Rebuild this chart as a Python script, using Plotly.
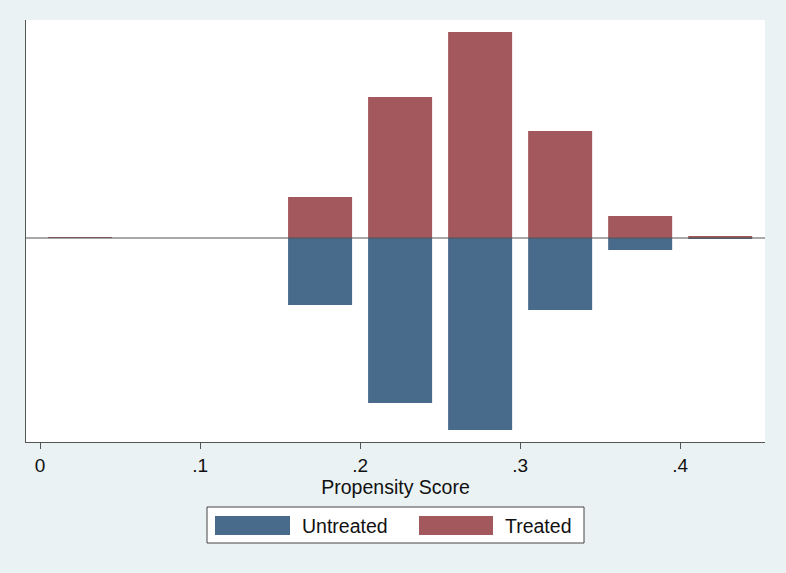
import plotly.graph_objects as go

bin_centers = [0.025, 0.075, 0.125, 0.175, 0.225, 0.275, 0.325, 0.375, 0.425]
treated = [0.6, 0, 0, 41, 141, 206, 107, 22, 2]
untreated = [0, 0, 0, 67, 165, 192, 72, 12, 1]
tick_vals = [0, 0.1, 0.2, 0.3, 0.4]
tick_text = ["0", ".1", ".2", ".3", ".4"]

BLUE = "#486a8b"
RED = "#a3585e"
BG = "#eaf2f3"
W, H = 786, 573

fig = go.Figure()
fig.add_trace(go.Bar(x=bin_centers, y=treated, width=0.04, marker=dict(color=RED, line=dict(width=0)),
                     name="Treated", showlegend=False))
fig.add_trace(go.Bar(x=bin_centers, y=[-v for v in untreated], width=0.04,
                     marker=dict(color=BLUE, line=dict(width=0)),
                     name="Untreated", showlegend=False))

# zero line
fig.add_shape(type="line", xref="paper", yref="y", x0=0, x1=1, y0=0, y1=0,
              line=dict(color="#555555", width=1.2))

fig.update_layout(
    width=W, height=H,
    barmode="overlay",
    paper_bgcolor=BG, plot_bgcolor="white",
    margin=dict(l=26, r=21, t=20, b=131),
    font=dict(family="Liberation Sans, Arial, sans-serif", color="#111111"),
    xaxis=dict(range=[-0.00875, 0.453], tickvals=tick_vals, ticktext=tick_text,
               ticks="outside", ticklen=6, tickcolor="#555555", tickwidth=1,
               showline=True, linecolor="#555555", linewidth=1.2, showgrid=False, zeroline=False,
               tickfont=dict(size=19),
               title=dict(text="Propensity Score", font=dict(size=19.5), standoff=2)),
    yaxis=dict(range=[-204, 218], showticklabels=False, ticks="", showline=True,
               linecolor="#555555", linewidth=1.2, showgrid=False, zeroline=False),
)

def px(x):
    return (x - 26) / (765 - 26)

def py(y):
    return (442 - y) / (442 - 20)

fig.add_shape(type="rect", xref="paper", yref="paper", x0=px(207), x1=px(584), y0=py(543), y1=py(507),
              fillcolor="white", line=dict(color="#444444", width=1))
fig.add_shape(type="rect", xref="paper", yref="paper", x0=px(215), x1=px(290), y0=py(535), y1=py(516),
              fillcolor=BLUE, line=dict(color=BLUE, width=0))
fig.add_shape(type="rect", xref="paper", yref="paper", x0=px(419), x1=px(493), y0=py(535), y1=py(516),
              fillcolor=RED, line=dict(color=RED, width=0))
fig.add_annotation(xref="paper", yref="paper", x=px(300), y=py(526), text="Untreated", showarrow=False,
                   xanchor="left", yanchor="middle", font=dict(size=19.5, color="#111111"))
fig.add_annotation(xref="paper", yref="paper", x=px(503), y=py(526), text="Treated", showarrow=False,
                   xanchor="left", yanchor="middle", font=dict(size=19.5, color="#111111"))

fig.write_html("out.html", config={"displayModeBar": False},
               post_script="document.body.style.margin='0';document.body.style.overflow='hidden';")
